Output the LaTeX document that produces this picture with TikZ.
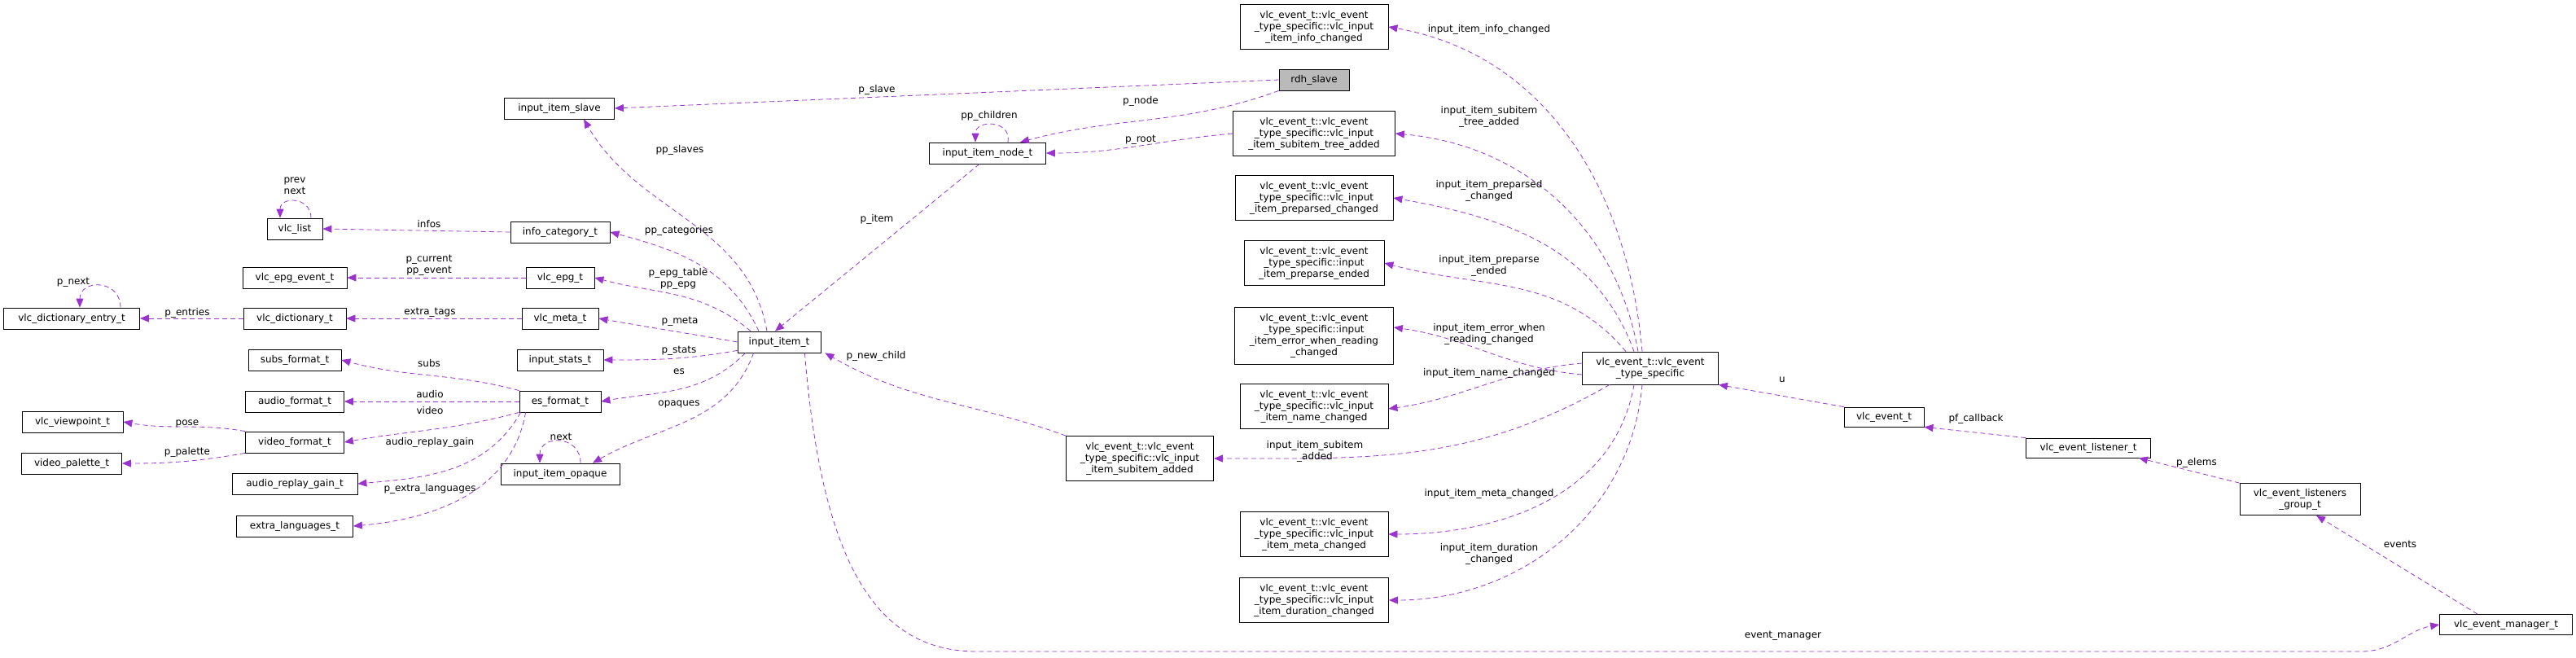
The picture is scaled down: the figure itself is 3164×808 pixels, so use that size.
\documentclass[tikz,border=0pt]{standalone}
\usepackage{fontspec}
\setmainfont{DejaVu Sans}
\usetikzlibrary{arrows.meta}
\definecolor{relcol}{HTML}{9A32CD}
\tikzset{
  box/.style={draw,thick,inner sep=0pt,minimum height=26pt,align=center,
    font=\fontsize{12pt}{14pt}\selectfont},
  box3/.style={box,minimum height=55pt},
  rel/.style={draw=relcol,dashed,thick,dash pattern=on 6pt off 4pt,
    -{Triangle[length=11pt,width=9pt,fill=relcol]}},
  lab/.style={inner sep=1pt,align=center,font=\fontsize{12pt}{14pt}\selectfont}
}
\newcommand{\evn}[1]{vlc\_event\_t::vlc\_event\\\_type\_specific::#1}
\begin{document}
\begin{tikzpicture}[x=1pt,y=-1pt]
\useasboundingbox (0,0) rectangle (3164,808);

%% left part
\node [box,minimum width=135pt] (slave) at (687,133) {input\_item\_slave};
\node [box,minimum width=86pt,fill=black!27] (rdh) at (1614,98) {rdh\_slave};
\node [box,minimum width=143pt] (node) at (1213,188) {input\_item\_node\_t};
\node [box,minimum width=68pt] (list) at (362,281) {vlc\_list};
\node [box,minimum width=122pt] (infocat) at (688,285) {info\_category\_t};
\node [box,minimum width=128pt] (epgev) at (362,341) {vlc\_epg\_event\_t};
\node [box,minimum width=84pt] (epg) at (688,341) {vlc\_epg\_t};
\node [box,minimum width=167pt] (dictent) at (88,391) {vlc\_dictionary\_entry\_t};
\node [box,minimum width=126pt] (dict) at (362,391) {vlc\_dictionary\_t};
\node [box,minimum width=94pt] (meta) at (688,391) {vlc\_meta\_t};
\node [box,minimum width=102pt] (item) at (957,420) {input\_item\_t};
\node [box,minimum width=114pt] (subs) at (362,442) {subs\_format\_t};
\node [box,minimum width=106pt] (stats) at (688,442) {input\_stats\_t};
\node [box,minimum width=121pt] (audio) at (362,493) {audio\_format\_t};
\node [box,minimum width=100pt] (es) at (688,493) {es\_format\_t};
\node [box,minimum width=124pt] (viewp) at (89,518) {vlc\_viewpoint\_t};
\node [box,minimum width=121pt] (video) at (362,543) {video\_format\_t};
\node [box,minimum width=123pt] (palette) at (88,569) {video\_palette\_t};
\node [box,minimum width=154pt] (gain) at (362,594) {audio\_replay\_gain\_t};
\node [box,minimum width=146pt] (opaque) at (688,582) {input\_item\_opaque};
\node [box,minimum width=143pt] (extralang) at (362,646) {extra\_languages\_t};

%% event structs
\node [box3,minimum width=182pt] (infochg) at (1614,33) {\evn{vlc\_input}\\\_item\_info\_changed};
\node [box3,minimum width=199pt] (treeadd) at (1614,164) {\evn{vlc\_input}\\\_item\_subitem\_tree\_added};
\node [box3,minimum width=194pt] (prepchg) at (1614,243) {\evn{vlc\_input}\\\_item\_preparsed\_changed};
\node [box3,minimum width=172pt] (prepend) at (1614,323) {\evn{input}\\\_item\_preparse\_ended};
\node [box3,minimum width=195pt,minimum height=70pt] (errread) at (1614,412) {\evn{input}\\\_item\_error\_when\_reading\\\_changed};
\node [box3,minimum width=182pt] (namechg) at (1614,499) {\evn{vlc\_input}\\\_item\_name\_changed};
\node [box3,minimum width=181pt] (subadd) at (1400,563) {\evn{vlc\_input}\\\_item\_subitem\_added};
\node [box3,minimum width=182pt] (metachg) at (1614,656) {\evn{vlc\_input}\\\_item\_meta\_changed};
\node [box3,minimum width=183pt] (durchg) at (1614,737) {\evn{vlc\_input}\\\_item\_duration\_changed};
\node [box,minimum width=167pt,minimum height=40pt] (ts) at (2027,452) {vlc\_event\_t::vlc\_event\\\_type\_specific};
\node [box,minimum width=98pt,minimum height=24pt] (event) at (2314,512) {vlc\_event\_t};
\node [box,minimum width=153pt,minimum height=24pt] (listener) at (2565,550) {vlc\_event\_listener\_t};
\node [box,minimum width=148pt,minimum height=39pt] (group) at (2825,613) {vlc\_event\_listeners\\\_group\_t};
\node [box,minimum width=163pt,minimum height=25pt] (manager) at (3078,767) {vlc\_event\_manager\_t};

%% relations
\draw [rel] (rdh.west) -- (slave.east);
\node [lab] (l1) at (1077,110) {p\_slave};
\draw [rel] (rdh.south west) to[out=200,in=15] ([xshift=40pt]node.north);
\node [lab] (l2) at (1401,124) {p\_node};
\draw [rel] ([xshift=25pt]node.north) to[out=80,in=90,looseness=1.8] ([xshift=-15pt]node.north);
\node [lab] (l3) at (1215,142) {pp\_children};
\draw [rel] (treeadd.west) to[out=185,in=0] (node.east);
\node [lab] (l4) at (1401,172) {p\_root};
\draw [rel] ([xshift=-10pt]node.south) -- ([xshift=-5pt]item.north);
\node [lab] (l5) at (1077,269) {p\_item};
\draw [rel] ([xshift=-15pt]item.north) to[out=100,in=-60] ([xshift=30pt]slave.south);
\node [lab] (l6) at (835,184) {pp\_slaves};
\draw [rel] ([xshift=-25pt]item.north) to[out=115,in=-15] (infocat.east);
\node [lab] (l7) at (834,283) {pp\_categories};
\draw [rel] (infocat.west) -- (list.east);
\node [lab] (l8) at (527,275) {infos};
\draw [rel] ([xshift=20pt]list.north) to[out=90,in=90,looseness=1.8] ([xshift=-18pt]list.north);
\node [lab] (l9) at (362,228) {prev\\next};
\draw [rel] (epg.west) -- (epgev.east);
\node [lab] (l10) at (527,326) {p\_current\\pp\_event};
\draw [rel] ([xshift=-35pt]item.north) to[out=140,in=-15] (epg.east);
\node [lab] (l11) at (833,342) {p\_epg\_table\\pp\_epg};
\draw [rel] ([xshift=60pt]dictent.north) to[out=90,in=90,looseness=1.8] ([xshift=10pt]dictent.north);
\node [lab] (l12) at (90,347) {p\_next};
\draw [rel] (dict.west) -- (dictent.east);
\node [lab] (l13) at (230,384) {p\_entries};
\draw [rel] (meta.west) -- (dict.east);
\node [lab] (l14) at (528,384) {extra\_tags};
\draw [rel] (item.west) to[out=170,in=-10] (meta.east);
\node [lab] (l15) at (835,395) {p\_meta};
\draw [rel] ([yshift=3pt]item.south west) to[out=190,in=0] (stats.east);
\node [lab] (l16) at (834,431) {p\_stats};
\draw [rel] ([xshift=10pt]item.south west) to[out=225,in=10] (es.east);
\node [lab] (l17) at (834,456) {es};
\draw [rel] (es.north west) to[out=165,in=-15] (subs.east);
\node [lab] (l18) at (527,446) {subs};
\draw [rel] (es.west) -- (audio.east);
\node [lab] (l19) at (528,484) {audio};
\draw [rel] (es.south west) to[out=195,in=10] (video.east);
\node [lab] (l20) at (528,504) {video};
\draw [rel] (video.north west) to[out=170,in=-10] (viewp.east);
\node [lab] (l21) at (230,520) {pose};
\draw [rel] (video.south west) to[out=190,in=0] (palette.east);
\node [lab] (l22) at (230,555) {p\_palette};
\draw [rel] ([xshift=2pt]es.south west) to[out=240,in=5] (gain.east);
\node [lab] (l23) at (528,543) {audio\_replay\_gain};
\draw [rel] ([xshift=8pt]es.south west) to[out=260,in=5] (extralang.east);
\node [lab] (l24) at (528,600) {p\_extra\_languages};
\draw [rel] ([xshift=25pt]opaque.north) to[out=90,in=90,looseness=1.8] ([xshift=-25pt]opaque.north);
\node [lab] (l25) at (689,536) {next};
\draw [rel] ([xshift=20pt]item.south west) to[out=250,in=30] ([xshift=40pt]opaque.north);
\node [lab] (l26) at (834,496) {opaques};
\draw [rel] (subadd.north west) to[out=160,in=-30] ([xshift=5pt]item.south east);
\node [lab] (l27) at (1076,437) {p\_new\_child};
\draw [rel] ([xshift=-20pt]item.south east) .. controls (1010,700) and (1080,800) .. (1200,800) -- (2900,800) to[out=0,in=190] (manager.west);
\node [lab] (l28) at (2190,781) {event\_manager};

%% type specific
\draw [rel] ([xshift=-10pt]ts.north) to[out=95,in=-10] (infochg.east);
\node [lab] (l29) at (1829,36) {input\_item\_info\_changed};
\draw [rel] ([xshift=-15pt]ts.north) to[out=100,in=-5] (treeadd.east);
\node [lab] (l30) at (1829,143) {input\_item\_subitem\\\_tree\_added};
\draw [rel] ([xshift=-20pt]ts.north) to[out=110,in=-10] (prepchg.east);
\node [lab] (l31) at (1829,234) {input\_item\_preparsed\\\_changed};
\draw [rel] ([xshift=-30pt]ts.north) to[out=130,in=-15] (prepend.east);
\node [lab] (l32) at (1829,326) {input\_item\_preparse\\\_ended};
\draw [rel] ([yshift=-8pt]ts.west) to[out=175,in=-8] ([yshift=10pt]errread.east);
\node [lab] (l33) at (1829,410) {input\_item\_error\_when\\\_reading\_changed};
\draw [rel] ([yshift=6pt]ts.west) to[out=185,in=8] ([yshift=-3pt]namechg.east);
\node [lab] (l34) at (1829,458) {input\_item\_name\_changed};
\draw [rel] ([xshift=-50pt]ts.south) to[out=210,in=0] (subadd.east);
\node [lab] (l35) at (1615,554) {input\_item\_subitem\\\_added};
\draw [rel] ([xshift=-20pt]ts.south) to[out=260,in=0] (metachg.east);
\node [lab] (l36) at (1829,606) {input\_item\_meta\_changed};
\draw [rel] ([xshift=-10pt]ts.south) to[out=265,in=0] (durchg.east);
\node [lab] (l37) at (1829,680) {input\_item\_duration\\\_changed};
\draw [rel] (event.north west) -- (ts.south east);
\node [lab] (l38) at (2189,466) {u};
\draw [rel] (listener.north west) -- (event.south east);
\node [lab] (l39) at (2427,514) {pf\_callback};
\draw [rel] (group.north west) -- ([xshift=-15pt]listener.south east);
\node [lab] (l40) at (2698,568) {p\_elems};
\draw [rel] ([xshift=-35pt]manager.north) -- ([xshift=20pt]group.south);
\node [lab] (l41) at (2948,668) {events};
\end{tikzpicture}
\end{document}
